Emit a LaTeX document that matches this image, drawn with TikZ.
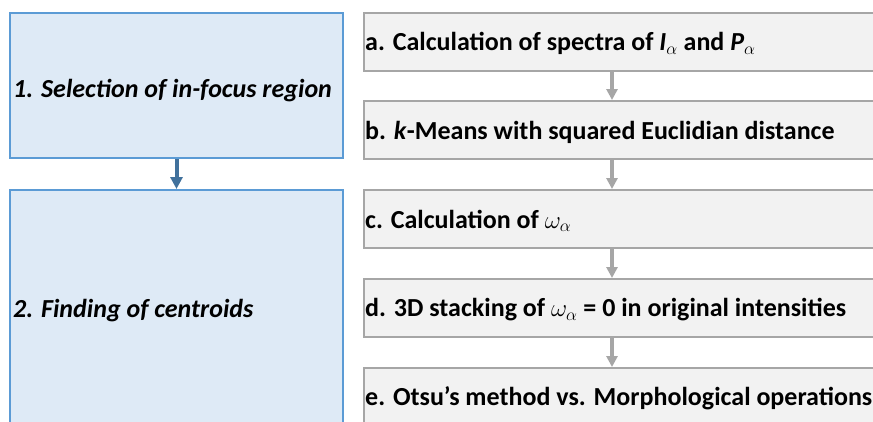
\documentclass[tikz,border=0pt]{standalone}
\usepackage{fontspec}
\setmainfont{Carlito}
\usetikzlibrary{arrows.meta,calc}
\definecolor{bfill}{HTML}{DEEAF6}
\definecolor{bdraw}{HTML}{5B9BD5}
\definecolor{barrow}{HTML}{41719C}
\definecolor{gfill}{HTML}{F2F2F2}
\definecolor{gdraw}{HTML}{A6A6A6}
\tikzset{
  bluebox/.style={draw=bdraw, fill=bfill, line width=2pt, inner sep=0pt, anchor=north west},
  graybox/.style={draw=gdraw, fill=gfill, line width=2pt, inner sep=0pt, anchor=north west, minimum width=530pt, minimum height=58pt},
  ltext/.style={anchor=base west, inner sep=0pt, font=\fontsize{26}{30}\selectfont\bfseries\itshape},
  rtext/.style={anchor=base west, inner sep=0pt, font=\fontsize{26}{30}\selectfont\bfseries},
  barr/.style={draw=barrow, line width=4pt, -{Triangle[width=12pt,length=12pt]}},
  garr/.style={draw=gdraw, line width=3.5pt, -{Triangle[width=11pt,length=11pt]}}
}
\begin{document}
\begin{tikzpicture}[x=1pt,y=-1pt]
\useasboundingbox (0,0) rectangle (873,421);
\clip (0,0) rectangle (873,421);
% left column
\node[bluebox, minimum width=333pt, minimum height=145pt] (s1) at (9,12) {};
\node[bluebox, minimum width=333pt, minimum height=260pt] (s2) at (9,189) {};
\node[ltext] (t1) at (13,97) {1. Selection of in-focus region};
\node[ltext] (t2) at (13,317) {2. Finding of centroids};
\draw[barr] (s1.south) -- (s2.north);
% right column
\node[graybox] (ra) at (363,12) {};
\node[graybox] (rb) at (363,100) {};
\node[graybox] (rc) at (363,189) {};
\node[graybox] (rd) at (363,278) {};
\node[graybox] (re) at (363,367) {};
\node[rtext] (ta) at (365,50.5) {a. Calculation of spectra of \textit{I}$_\alpha$ and \textit{P}$_\alpha$};
\node[rtext] (tb) at (365,139) {b. \textit{k}-Means with squared Euclidian distance};
\node[rtext] (tc) at (365,228) {c. Calculation of $\omega_\alpha$};
\node[rtext] (td) at (365,316.5) {d. 3D stacking of $\omega_\alpha$ = 0 in original intensities};
\node[rtext] (te) at (365,405.5) {e. Otsu’s method vs. Morphological operations};
\foreach \p/\q in {ra/rb, rb/rc, rc/rd, rd/re}
  \draw[garr] ($(\p.south west)+(249,0)$) -- ($(\q.north west)+(249,0)$);
\end{tikzpicture}
\end{document}
